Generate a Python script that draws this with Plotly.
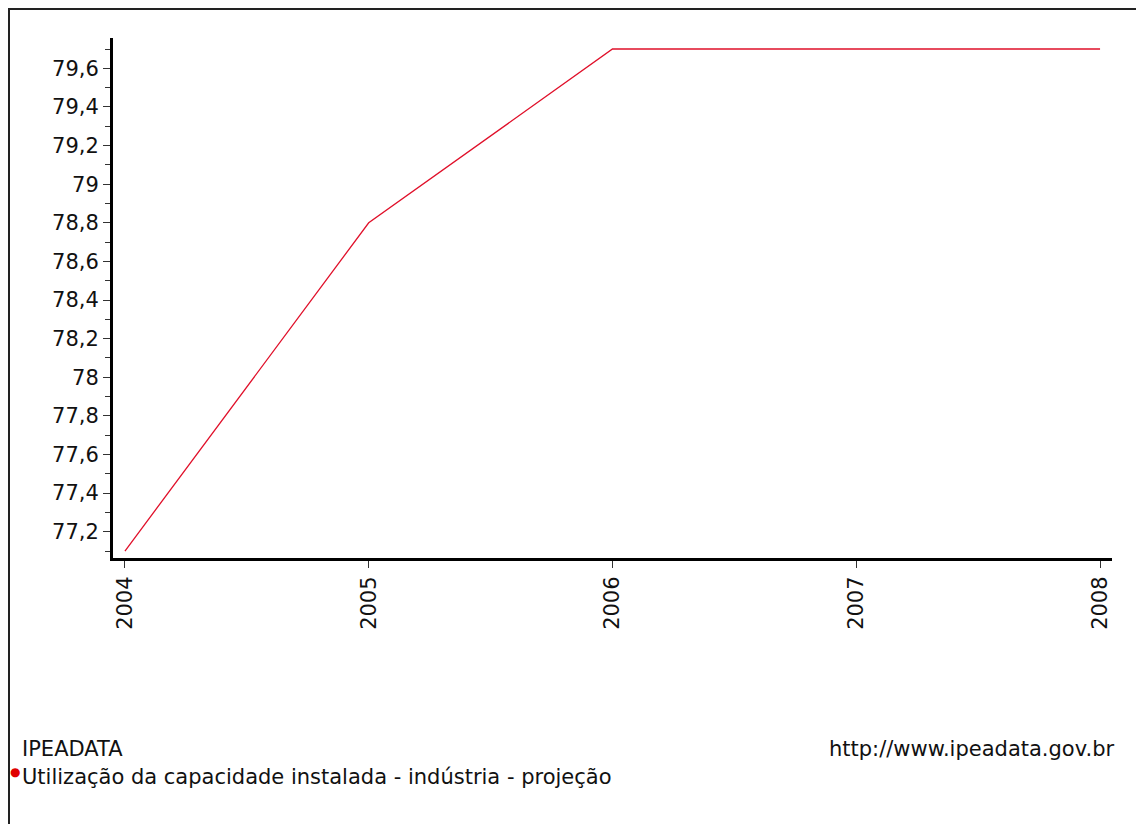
import plotly.graph_objects as go

years = [2004, 2005, 2006, 2007, 2008]
values = [77.1, 78.8, 79.7, 79.7, 79.7]
series_name = "Utilização da capacidade instalada - indústria - projeção"
source_label = "IPEADATA"
url_label = "http://www.ipeadata.gov.br"

FONT = "DejaVu Sans"
OFF = 8  # page body margin
W, H = 1144 - OFF, 824 - OFF
L, R, T, B = 113 - OFF, 1112 - OFF, 38 - OFF, 558 - OFF

def px(x):
    return (x - OFF - L) / (R - L)

def py(y):
    return (B - (y - OFF)) / (B - T)

fig = go.Figure()
fig.add_trace(go.Scatter(
    x=years, y=values, mode="lines",
    line=dict(color="#e0102a", width=1.3),
    showlegend=False, hoverinfo="skip",
))

fig.update_layout(
    width=W, height=H,
    margin=dict(l=L, r=W - R, t=T, b=H - B),
    paper_bgcolor="white", plot_bgcolor="white",
    separators=",.",
    font=dict(family=FONT, size=21, color="#111"),
    xaxis=dict(
        range=[2003.951, 2008.049],
        tickmode="array", tickvals=years, ticktext=[str(y) for y in years],
        tickangle=-90, ticks="outside", ticklen=7, tickcolor="#333",
        showline=True, linecolor="black", linewidth=3,
        showgrid=False, zeroline=False,
        tickfont=dict(family=FONT, size=21, color="#111"),
    ),
    yaxis=dict(
        range=[77.064, 79.757],
        tick0=77.2, dtick=0.2, ticks="outside", ticklen=7, tickcolor="#333",
        minor=dict(ticks="outside", ticklen=5, dtick=0.1, tick0=77.1, tickcolor="#333", showgrid=False),
        showline=True, linecolor="black", linewidth=3,
        showgrid=False, zeroline=False,
        tickfont=dict(family=FONT, size=21, color="#111"),
    ),
    shapes=[
        dict(type="line", xref="paper", yref="paper",
             x0=px(8), x1=px(1144), y0=py(9), y1=py(9),
             line=dict(color="#222", width=2)),
        dict(type="line", xref="paper", yref="paper",
             x0=px(9), x1=px(9), y0=py(9), y1=py(824),
             line=dict(color="#222", width=2)),
    ],
    annotations=[
        dict(xref="paper", yref="paper", x=px(20), y=py(749), text=source_label,
             showarrow=False, xanchor="left", yanchor="middle",
             font=dict(family=FONT, size=21, color="#111")),
        dict(xref="paper", yref="paper", x=px(20), y=py(777), text=series_name,
             showarrow=False, xanchor="left", yanchor="middle",
             font=dict(family=FONT, size=21, color="#111")),
        dict(xref="paper", yref="paper", x=px(15), y=py(772), text="●",
             showarrow=False, xanchor="center", yanchor="middle",
             font=dict(family=FONT, size=12, color="#e00000")),
        dict(xref="paper", yref="paper", x=px(1117), y=py(749), text=url_label,
             showarrow=False, xanchor="right", yanchor="middle",
             font=dict(family=FONT, size=21, color="#111")),
    ],
)

fig.write_html("out.html")
